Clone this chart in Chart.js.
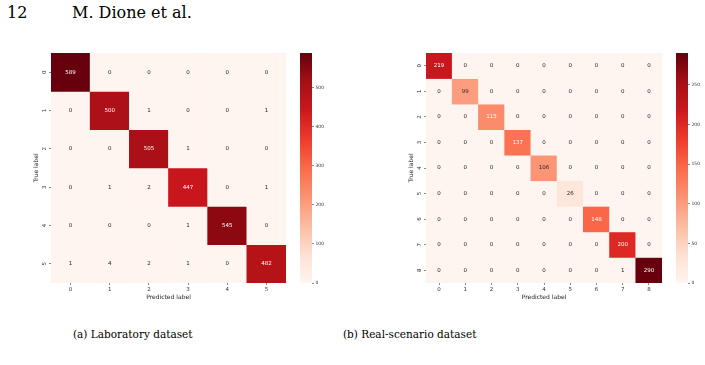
<!DOCTYPE html>
<html>
<head>
<meta charset="utf-8">
<script src="https://cdn.jsdelivr.net/npm/chart.js@4.4.1/dist/chart.umd.min.js"></script>
<style>
  html, body { margin: 0; padding: 0; background: #fff; }
  body { width: 705px; height: 365px; position: relative; overflow: hidden; }
  canvas { position: absolute; }
  .txt { position: absolute; font-family: "DejaVu Serif", serif; color: #000; white-space: nowrap; line-height: 1; }
</style>
</head>
<body>
<div class="txt" style="left:7px;top:5px;font-size:16px;">12</div>
<div class="txt" style="left:72px;top:5px;font-size:16px;">M. Dione et al.</div>

<canvas id="labHeat" width="253" height="255" style="left:33px;top:46px;"></canvas>
<canvas id="labBar" width="40" height="244" style="left:300px;top:46px;"></canvas>
<canvas id="realHeat" width="254" height="255" style="left:408px;top:46px;"></canvas>
<canvas id="realBar" width="29" height="244" style="left:676px;top:46px;"></canvas>

<div class="txt" style="left:73px;top:329px;font-size:10.5px;">(a) Laboratory dataset</div>
<div class="txt" style="left:343px;top:329px;font-size:10.5px;">(b) Real-scenario dataset</div>

<script>
// --- data
const labLabels = ['0', '1', '2', '3', '4', '5'];
const labRow0 = [589, 0, 0, 0, 0, 0];
const labRow1 = [0, 500, 1, 0, 0, 1];
const labRow2 = [0, 0, 505, 1, 0, 0];
const labRow3 = [0, 1, 2, 447, 0, 1];
const labRow4 = [0, 0, 0, 1, 545, 0];
const labRow5 = [1, 4, 2, 1, 0, 482];
const labCbarTicks = [0, 100, 200, 300, 400, 500];

const realLabels = ['0', '1', '2', '3', '4', '5', '6', '7', '8'];
const realRow0 = [219, 0, 0, 0, 0, 0, 0, 0, 0];
const realRow1 = [0, 99, 0, 0, 0, 0, 0, 0, 0];
const realRow2 = [0, 0, 115, 0, 0, 0, 0, 0, 0];
const realRow3 = [0, 0, 0, 137, 0, 0, 0, 0, 0];
const realRow4 = [0, 0, 0, 0, 106, 0, 0, 0, 0];
const realRow5 = [0, 0, 0, 0, 0, 26, 0, 0, 0];
const realRow6 = [0, 0, 0, 0, 0, 0, 148, 0, 0];
const realRow7 = [0, 0, 0, 0, 0, 0, 0, 200, 0];
const realRow8 = [0, 0, 0, 0, 0, 0, 0, 1, 290];
const realCbarTicks = [0, 50, 100, 150, 200, 250];

const labMatrix = [labRow0, labRow1, labRow2, labRow3, labRow4, labRow5];
const realMatrix = [realRow0, realRow1, realRow2, realRow3, realRow4, realRow5, realRow6, realRow7, realRow8];

// --- matplotlib "Reds"
const REDS = ['#fff5f0', '#fee0d2', '#fcbba1', '#fc9272', '#fb6a4a', '#ef3b2c', '#cb181d', '#a50f15', '#67000d'];
const REDS_RGB = REDS.map(h => [1, 3, 5].map(i => parseInt(h.substr(i, 2), 16)));

function reds(t) {
  t = Math.max(0, Math.min(1, t));
  const s = t * (REDS_RGB.length - 1);
  const i = Math.min(Math.floor(s), REDS_RGB.length - 2);
  const f = s - i;
  const a = REDS_RGB[i], b = REDS_RGB[i + 1];
  return a.map((v, k) => Math.round(v + (b[k] - v) * f));
}

function luminance(rgb) {
  const c = rgb.map(v => { v /= 255; return v <= 0.03928 ? v / 12.92 : Math.pow((v + 0.055) / 1.055, 2.4); });
  return 0.2126 * c[0] + 0.7152 * c[1] + 0.0722 * c[2];
}

const SANS = '"DejaVu Sans", sans-serif';
const tickFont = { family: SANS, size: 5.5 };
const titleFont = { family: SANS, size: 6 };

// annotate each cell, seaborn style (dark text on light cells, white on dark)
const cellText = {
  id: 'cellText',
  afterDatasetsDraw(chart) {
    const ctx = chart.ctx;
    ctx.save();
    ctx.font = '5.5px ' + SANS;
    ctx.textAlign = 'center';
    ctx.textBaseline = 'middle';
    chart.data.datasets.forEach((ds, i) => {
      chart.getDatasetMeta(i).data.forEach((bar, j) => {
        ctx.fillStyle = luminance(ds.rgb[j]) > 0.408 ? '#262626' : '#ffffff';
        ctx.fillText(String(ds.counts[j]), bar.x, (bar.y + bar.base) / 2);
      });
    });
    ctx.restore();
  }
};

function heatmap(id, labels, matrix) {
  const vmax = Math.max(...matrix.flat());
  const datasets = matrix.map((row, i) => {
    const rgb = row.map(v => reds(v / vmax));
    return {
      label: labels[i],
      data: row.map(() => 1),   // one unit-high cell per column, stacked by row
      counts: row,
      rgb: rgb,
      backgroundColor: rgb.map(c => 'rgb(' + c.join(',') + ')'),
      borderWidth: 0,
      barPercentage: 1,
      categoryPercentage: 1
    };
  });
  const tickGrid = { display: true, drawOnChartArea: false, drawTicks: true, tickLength: 2, color: '#555', lineWidth: 0.7, offset: false };
  return new Chart(document.getElementById(id), {
    type: 'bar',
    data: { labels: labels, datasets: datasets },
    plugins: [cellText],
    options: {
      responsive: false, animation: false, devicePixelRatio: 1,
      layout: { padding: { top: 7, left: 0, right: 0, bottom: 0 } },
      plugins: { legend: { display: false }, tooltip: { enabled: false } },
      scales: {
        x: {
          stacked: true, offset: true,
          grid: tickGrid, border: { display: false },
          ticks: { color: '#333', font: tickFont, padding: 1, minRotation: 0, maxRotation: 0, autoSkip: false },
          title: { display: true, text: 'Predicted label', color: '#222', font: titleFont, padding: 0 },
          afterFit(s) { s.height = 18; }
        },
        y: {
          type: 'linear', stacked: true, reverse: true, min: 0, max: labels.length,
          afterBuildTicks(s) { s.ticks = labels.map((_, i) => ({ value: i + 0.5 })); },
          grid: tickGrid, border: { display: false },
          ticks: { color: '#333', font: tickFont, padding: 3, minRotation: 90, maxRotation: 90, crossAlign: 'center', autoSkip: false,
                   callback: (v, i) => labels[i] },
          title: { display: true, text: 'True label', color: '#222', font: titleFont, padding: 0 },
          afterFit(s) { s.width = 18; }
        }
      }
    }
  });
}

function colorbar(id, matrix, tickVals, axisWidth) {
  const vmax = Math.max(...matrix.flat());
  return new Chart(document.getElementById(id), {
    type: 'bar',
    data: {
      labels: [''],
      datasets: [{
        data: [vmax],
        backgroundColor: (c) => {
          const area = c.chart.chartArea;
          if (!area) return REDS[4];
          const g = c.chart.ctx.createLinearGradient(0, area.bottom, 0, area.top);
          REDS.forEach((col, i) => g.addColorStop(i / (REDS.length - 1), col));
          return g;
        },
        borderWidth: 0, barPercentage: 1, categoryPercentage: 1
      }]
    },
    options: {
      responsive: false, animation: false, devicePixelRatio: 1,
      layout: { padding: { top: 7, bottom: 7, left: 0, right: 0 } },
      plugins: { legend: { display: false }, tooltip: { enabled: false } },
      scales: {
        x: { display: false },
        y: {
          position: 'right', min: 0, max: vmax,
          afterBuildTicks(s) { s.ticks = tickVals.map(v => ({ value: v })); },
          grid: { drawOnChartArea: false, drawTicks: true, tickLength: 2, color: '#555', lineWidth: 0.7 },
          border: { display: false },
          ticks: { color: '#333', font: { family: SANS, size: 4.5 }, padding: 1.5 },
          afterFit(s) { s.width = axisWidth; }
        }
      }
    }
  });
}

heatmap('labHeat', labLabels, labMatrix);
colorbar('labBar', labMatrix, labCbarTicks, 28);
heatmap('realHeat', realLabels, realMatrix);
colorbar('realBar', realMatrix, realCbarTicks, 17);
</script>
</body>
</html>
